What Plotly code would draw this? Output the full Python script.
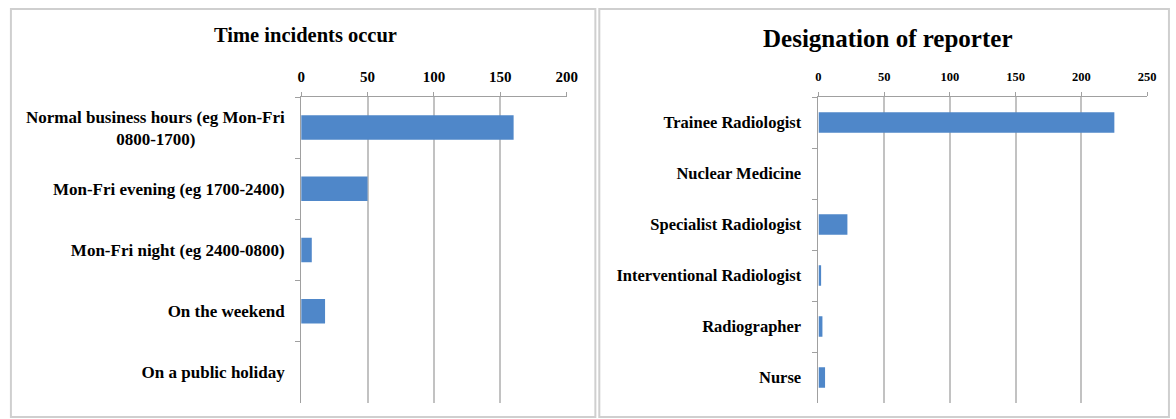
import plotly.graph_objects as go

# Left chart data
time_categories = [
    "Normal business hours (eg Mon-Fri<br>0800-1700)" + "\u00a0" * 21,
    "Mon-Fri evening (eg 1700-2400)",
    "Mon-Fri night (eg 2400-0800)",
    "On the weekend",
    "On a public holiday",
]
time_values = [160, 50, 8, 18, 0]
time_ticks = [0, 50, 100, 150, 200]

# Right chart data
reporter_categories = [
    "Trainee Radiologist",
    "Nuclear Medicine",
    "Specialist Radiologist",
    "Interventional Radiologist",
    "Radiographer",
    "Nurse",
]
reporter_values = [225, 0, 22, 2, 3, 5]
reporter_ticks = [0, 50, 100, 150, 200, 250]

W, H = 1176, 419
BAR = "#4f87c9"
GRID = "#c2c2c2"
FONT = "Liberation Serif"

fig = go.Figure()
fig.add_trace(go.Bar(x=time_values, y=time_categories, orientation="h",
                     marker=dict(color=BAR, line=dict(width=0)), width=0.4,
                     xaxis="x", yaxis="y", showlegend=False))
fig.add_trace(go.Bar(x=reporter_values, y=reporter_categories, orientation="h",
                     marker=dict(color=BAR, line=dict(width=0)), width=0.4,
                     xaxis="x2", yaxis="y2", showlegend=False))

ytop = 1 - 97 / H
ybot = 1 - 403 / H

common_x = dict(side="top", showgrid=True, gridcolor=GRID, gridwidth=1.5,
                ticks="outside", ticklen=4, tickcolor="#a0a0a0",
                showline=True, linecolor="#a0a0a0", linewidth=1,
                zeroline=False, fixedrange=True)
common_y = dict(autorange="reversed", showgrid=False, ticks="outside",
                tickson="boundaries", ticklen=5, tickcolor="#a0a0a0",
                showline=True, linecolor="#a0a0a0", linewidth=1,
                zeroline=False, fixedrange=True)

fig.update_layout(
    width=W, height=H,
    margin=dict(l=0, r=0, t=0, b=0),
    paper_bgcolor="white", plot_bgcolor="white",
    font=dict(family=FONT, color="black"),
    xaxis=dict(domain=[301 / W, 570 / W], range=[0, 200], tickvals=time_ticks,
               tickfont=dict(size=15, family=FONT, weight="bold"), ticklabelstandoff=4,
               anchor="y", **common_x),
    yaxis=dict(domain=[ybot, ytop], anchor="x",
               tickfont=dict(size=17, family=FONT, weight="bold"), ticklabelstandoff=12,
               **common_y),
    xaxis2=dict(domain=[825 / W, 1158 / W], range=[0, 250], tickvals=reporter_ticks,
                tickfont=dict(size=12.5, family=FONT, weight="bold"), ticklabelstandoff=6,
                anchor="y2", **common_x),
    yaxis2=dict(domain=[ybot, ytop], anchor="x2",
                tickfont=dict(size=16.5, family=FONT, weight="bold"), ticklabelstandoff=13,
                **common_y),
    shapes=[
        dict(type="rect", xref="paper", yref="paper", x0=7 / W, x1=599 / W,
             y0=1 - 417 / H, y1=1 - 9 / H, line=dict(color="#cfcfcf", width=2)),
        dict(type="rect", xref="paper", yref="paper", x0=603 / W, x1=1180 / W,
             y0=1 - 417 / H, y1=1 - 9 / H, line=dict(color="#cfcfcf", width=2)),
    ],
    annotations=[
        dict(text="<b>Time incidents occur</b>", x=305 / W, y=1 - 35 / H,
             xref="paper", yref="paper", showarrow=False,
             font=dict(size=20.5, family=FONT), xanchor="center", yanchor="middle"),
        dict(text="<b>Designation of reporter</b>", x=895 / W, y=1 - 38 / H,
             xref="paper", yref="paper", showarrow=False,
             font=dict(size=25, family=FONT), xanchor="center", yanchor="middle"),
    ],
)

fig.write_html("out.html", config={"displayModeBar": False},
               post_script="document.body.style.margin='0';document.body.style.overflow='hidden';")
